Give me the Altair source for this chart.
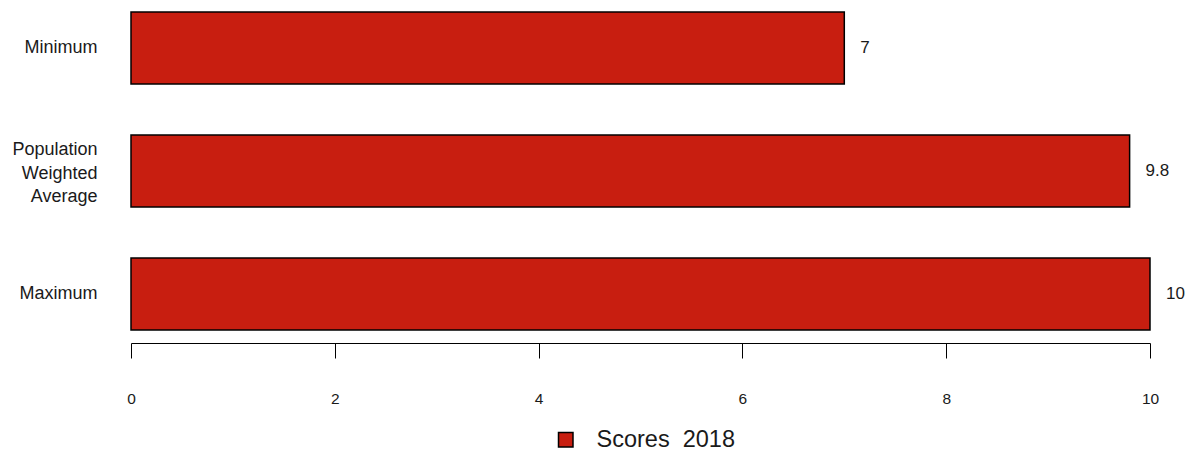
import altair as alt
import pandas as pd

categories = ["Minimum", "Population Weighted Average", "Maximum"]
values = [7, 9.8, 10]
value_labels = ["7", "9.8", "10"]
series_name = "Scores \u00a02018"
tick_values = [0, 2, 4, 6, 8, 10]

df = pd.DataFrame({
    "category": categories,
    "value": values,
    "label": value_labels,
    "series": [series_name] * len(categories),
})

FONT = "Liberation Sans"
BAR = "#C81E10"

y_enc = alt.Y(
    "category:N",
    sort=categories,
    scale=alt.Scale(paddingInner=0.4146, paddingOuter=0.0325),
    axis=alt.Axis(
        title=None, domain=False, ticks=False, labelPadding=34,
        labelFontSize=18, labelFont=FONT, labelColor="#1a1a1a",
        labelLineHeight=23.5, labelAlign="right", labelBaseline="middle",
        labelOffset={"condition": {"test": "datum.value == 'Population Weighted Average'", "value": -21}, "value": 0},
        labelExpr="datum.label == 'Population Weighted Average' ? ['Population','Weighted','Average'] : datum.label",
    ),
)

x_enc = alt.X(
    "value:Q",
    scale=alt.Scale(domain=[0, 10], nice=False, zero=True),
    axis=alt.Axis(
        title=None, values=tick_values, grid=False, offset=9, format="d",
        domainColor="black", domainWidth=1, tickColor="black", tickWidth=1,
        tickSize=15, labelPadding=33, labelFontSize=15.5, labelFont=FONT,
        labelColor="#1a1a1a", labelFlush=False,
    ),
)

bars = alt.Chart(df).mark_bar(stroke="black", strokeWidth=1.5).encode(
    x=x_enc,
    y=y_enc,
    color=alt.Color(
        "series:N",
        scale=alt.Scale(domain=[series_name], range=[BAR]),
        legend=alt.Legend(
            title=None, orient="none", legendX=423, legendY=420,
            symbolType="square", symbolSize=210, symbolStrokeColor="black",
            symbolStrokeWidth=1.5, labelFontSize=23.5, labelFont=FONT,
            labelColor="#1a1a1a", labelOffset=19, padding=0,
        ),
    ),
)

texts = alt.Chart(df).mark_text(
    align="left", baseline="middle", dx=16, fontSize=17, font=FONT, color="#1a1a1a"
).encode(
    x=alt.X("value:Q"),
    y=alt.Y("category:N", sort=categories),
    text="label:N",
)

chart = (bars + texts).properties(
    width=1019, height=326,
    padding={"left": 123, "top": 0, "right": 36, "bottom": 118},
    autosize="none",
).configure_view(stroke=None)

chart.save("out.html", embed_options={"renderer": "svg", "actions": False})
